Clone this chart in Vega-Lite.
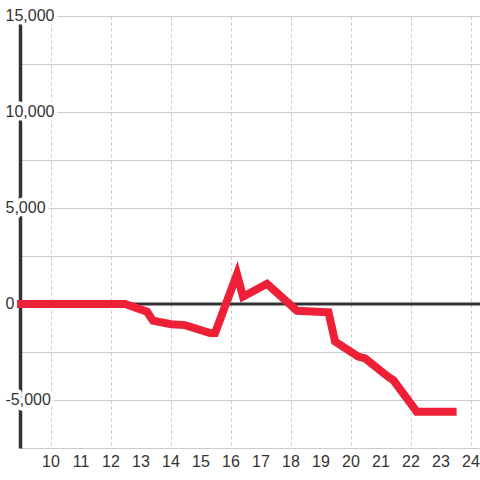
{
  "$schema": "https://vega.github.io/schema/vega-lite/v6.json",
  "width": 460,
  "height": 432,
  "autosize": {"type": "none"},
  "padding": {"left": 20, "top": 16, "right": 0, "bottom": 32},
  "background": "#ffffff",
  "config": {
    "view": {"stroke": null},
    "font": "Liberation Sans"
  },
  "datasets": {
    "series": [
      {"x": 8.87, "y": 0},
      {"x": 12.47, "y": 0},
      {"x": 13.2, "y": -400},
      {"x": 13.4, "y": -870},
      {"x": 14.0, "y": -1050},
      {"x": 14.47, "y": -1100},
      {"x": 15.3, "y": -1510},
      {"x": 15.47, "y": -1510},
      {"x": 16.2, "y": 1550},
      {"x": 16.4, "y": 380},
      {"x": 17.2, "y": 1050},
      {"x": 18.2, "y": -350},
      {"x": 19.25, "y": -430},
      {"x": 19.47, "y": -1960},
      {"x": 20.24, "y": -2740},
      {"x": 20.47, "y": -2830},
      {"x": 21.24, "y": -3790},
      {"x": 21.41, "y": -3960},
      {"x": 22.19, "y": -5610},
      {"x": 23.52, "y": -5610}
    ],
    "ylabels": [
      {"v": -5000, "t": "-5,000"},
      {"v": 0, "t": "0"},
      {"v": 5000, "t": "5,000"},
      {"v": 10000, "t": "10,000"},
      {"v": 15000, "t": "15,000"}
    ],
    "xlabels": [
      {"v": 10}, {"v": 11}, {"v": 12}, {"v": 13}, {"v": 14}, {"v": 15}, {"v": 16}, {"v": 17},
      {"v": 18}, {"v": 19}, {"v": 20}, {"v": 21}, {"v": 22}, {"v": 23}, {"v": 24}
    ]
  },
  "layer": [
    {
      "data": {"values": [{"z": 0}]},
      "mark": {"type": "rule", "color": "#333333", "strokeWidth": 3},
      "encoding": {"y": {"field": "z", "type": "quantitative"}}
    },
    {
      "data": {"name": "ylabels"},
      "mark": {"type": "text", "align": "left", "baseline": "middle", "fontSize": 16, "font": "Liberation Sans",
               "fill": "#ffffff", "stroke": "#ffffff", "strokeWidth": 7, "strokeJoin": "round"},
      "encoding": {
        "x": {"datum": 8.484, "type": "quantitative"},
        "y": {"field": "v", "type": "quantitative"},
        "text": {"field": "t"}
      }
    },
    {
      "data": {"name": "ylabels"},
      "mark": {"type": "text", "align": "left", "baseline": "middle", "fontSize": 16, "font": "Liberation Sans", "fill": "#333333"},
      "encoding": {
        "x": {"datum": 8.484, "type": "quantitative"},
        "y": {"field": "v", "type": "quantitative"},
        "text": {"field": "t"}
      }
    },
    {
      "data": {"name": "xlabels"},
      "mark": {"type": "text", "align": "center", "baseline": "top", "dy": 6, "fontSize": 16, "font": "Liberation Sans", "fill": "#333333"},
      "encoding": {
        "x": {"field": "v", "type": "quantitative"},
        "y": {"datum": -7500, "type": "quantitative"},
        "text": {"field": "v", "type": "quantitative", "format": "d"}
      }
    },
    {
      "data": {"name": "series"},
      "mark": {"type": "line", "color": "#ee2037", "strokeWidth": 8, "strokeJoin": "miter"},
      "encoding": {
        "x": {
          "field": "x", "type": "quantitative",
          "scale": {"domain": [8.967, 24.3], "nice": false, "zero": false},
          "axis": {
            "title": null, "values": [10,11,12,13,14,15,16,17,18,19,20,21,22,23,24],
            "domain": false, "ticks": false, "labels": false,
            "grid": true, "gridDash": [3, 3], "gridColor": "#c8c8c8", "gridWidth": 1
          }
        },
        "y": {
          "field": "y", "type": "quantitative",
          "scale": {"domain": [-7500, 15000], "nice": false},
          "axis": {
            "title": null, "values": [-7500,-5000,-2500,0,2500,5000,7500,10000,12500,15000],
            "labels": false,
            "domain": true, "domainColor": "#333333", "domainWidth": 3.5,
            "ticks": false,
            "grid": true, "gridColor": "#cccccc", "gridWidth": 1
          }
        }
      }
    }
  ]
}
